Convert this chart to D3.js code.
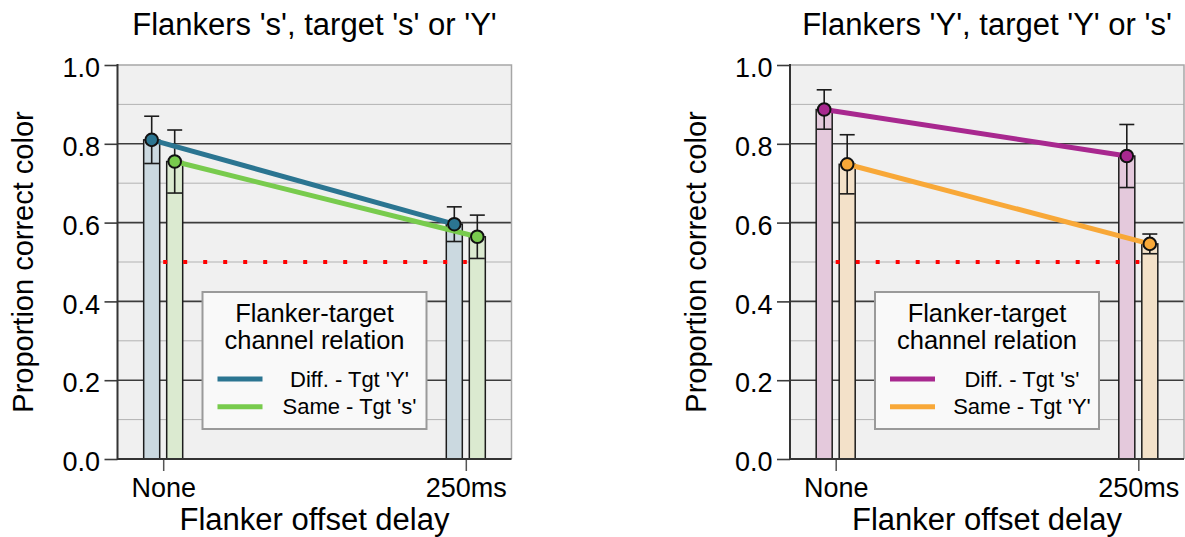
<!DOCTYPE html>
<html>
<head>
<meta charset="utf-8">
<script src="https://cdn.jsdelivr.net/npm/d3@7"></script>
<style>
  html, body { margin: 0; padding: 0; background: #ffffff; }
  svg { display: block; font-family: "Liberation Sans", Arial, sans-serif; }
</style>
</head>
<body>
<svg id="chart" width="1185" height="537"></svg>
<script>
// ---- data ----
const delays = ["None", "250ms"];
const yTicks = [0.0, 0.2, 0.4, 0.6, 0.8, 1.0];
const yMinorTicks = [0.1, 0.3, 0.5, 0.7, 0.9];
const chanceLevel = 0.5;

const panelTitles = ["Flankers 's', target 's' or 'Y'", "Flankers 'Y', target 'Y' or 's'"];
const legendTitle = ["Flanker-target", "channel relation"];
const xAxisTitle = "Flanker offset delay";
const yAxisTitle = "Proportion correct color";

// left panel: flankers 's'
const leftNames = ["Diff. - Tgt 'Y'", "Same - Tgt 's'"];
const leftDiffMean = [0.81, 0.596];
const leftDiffErr = [0.06, 0.044];
const leftSameMean = [0.755, 0.564];
const leftSameErr = [0.08, 0.055];

// right panel: flankers 'Y'
const rightNames = ["Diff. - Tgt 's'", "Same - Tgt 'Y'"];
const rightDiffMean = [0.887, 0.769];
const rightDiffErr = [0.05, 0.08];
const rightSameMean = [0.748, 0.546];
const rightSameErr = [0.075, 0.025];

const leftColors = ["#2b7591", "#78cb4d"];
const leftBarFills = ["#cbd9e0", "#dbead0"];
const rightColors = ["#a8288f", "#f8a838"];
const rightBarFills = ["#e4c9dc", "#f3e1c9"];

// ---- layout ----
const svg = d3.select("#chart");
const plotTop = 65, plotBottom = 459, plotW = 394;
const panelLefts = [117.5, 790];

const y = d3.scaleLinear().domain([0, 1]).range([plotBottom, plotTop]);

function drawPanel(left, title, names, means, errs, colors, fills) {
  const g = svg.append("g").attr("transform", `translate(${left},0)`);
  const x = d3.scalePoint().domain(delays).range([0, plotW]).padding(0.151);
  const sub = d3.scaleBand().domain(names).range([-23, 23]).paddingInner(7 / 23).paddingOuter(0.152);

  // background
  g.append("rect").attr("x", 0).attr("y", plotTop).attr("width", plotW)
    .attr("height", plotBottom - plotTop).attr("fill", "#f0f0f0");

  // grid
  g.selectAll("line.minor").data(yMinorTicks).join("line")
    .attr("x1", 0).attr("x2", plotW).attr("y1", d => y(d)).attr("y2", d => y(d))
    .attr("stroke", "#b2b2b2").attr("stroke-width", 1);
  g.selectAll("line.major").data(yTicks.filter(d => d > 0 && d < 1)).join("line")
    .attr("x1", 0).attr("x2", plotW).attr("y1", d => y(d)).attr("y2", d => y(d))
    .attr("stroke", "#3c3c3c").attr("stroke-width", 1.6);

  // frame (top / right lighter)
  g.append("path").attr("d", `M0,${y(1)}H${plotW}V${plotBottom}`)
    .attr("fill", "none").attr("stroke", "#a6a6a6").attr("stroke-width", 1.5);

  // records
  const recs = [];
  names.forEach((n, si) => {
    delays.forEach((dl, di) => {
      recs.push({ name: n, si, delay: dl, mean: means[si][di], err: errs[si][di],
        cx: x(dl) + sub(n) + sub.bandwidth() / 2 });
    });
  });

  // bars
  g.selectAll("rect.bar").data(recs).join("rect")
    .attr("x", d => x(d.delay) + sub(d.name))
    .attr("width", sub.bandwidth())
    .attr("y", d => y(d.mean))
    .attr("height", d => y(0) - y(d.mean))
    .attr("fill", d => fills[d.si])
    .attr("stroke", "#1c1c1c").attr("stroke-width", 1.5);

  // chance level
  g.append("line")
    .attr("x1", x(delays[0])).attr("x2", x(delays[1]) + 1)
    .attr("y1", y(chanceLevel)).attr("y2", y(chanceLevel))
    .attr("stroke", "#ff0000").attr("stroke-width", 4)
    .attr("stroke-dasharray", "4,16");

  // error bars
  const cap = 7.5;
  const eb = g.selectAll("g.eb").data(recs).join("g")
    .attr("stroke", "#1c1c1c").attr("stroke-width", 1.6);
  eb.append("line").attr("x1", d => d.cx).attr("x2", d => d.cx)
    .attr("y1", d => y(d.mean + d.err)).attr("y2", d => y(d.mean - d.err));
  eb.append("line").attr("x1", d => d.cx - cap).attr("x2", d => d.cx + cap)
    .attr("y1", d => y(d.mean + d.err)).attr("y2", d => y(d.mean + d.err));
  eb.append("line").attr("x1", d => d.cx - cap).attr("x2", d => d.cx + cap)
    .attr("y1", d => y(d.mean - d.err)).attr("y2", d => y(d.mean - d.err));

  // lines
  const line = d3.line().x(d => d.cx).y(d => y(d.mean));
  names.forEach((n, si) => {
    g.append("path").datum(recs.filter(r => r.si === si))
      .attr("d", line).attr("fill", "none")
      .attr("stroke", colors[si]).attr("stroke-width", 5);
  });

  // points
  g.selectAll("circle.pt").data(recs).join("circle")
    .attr("cx", d => d.cx).attr("cy", d => y(d.mean)).attr("r", 6.3)
    .attr("fill", d => colors[d.si]).attr("stroke", "#111").attr("stroke-width", 2);

  // y axis
  const ya = g.append("g").call(d3.axisLeft(y).tickValues(yTicks).tickSize(13)
    .tickPadding(4.5).tickFormat(d3.format(".1f")));
  ya.select(".domain").remove();
  ya.selectAll(".tick line").attr("stroke", "#3c3c3c").attr("stroke-width", 1.6);
  ya.selectAll(".tick text").attr("font-size", 27).attr("fill", "#000").attr("dy", "0.43em");
  g.append("line").attr("x1", 0).attr("x2", 0).attr("y1", plotTop - 1).attr("y2", plotBottom + 1)
    .attr("stroke", "#333").attr("stroke-width", 2);

  // x axis
  const xa = g.append("g").attr("transform", `translate(0,${plotBottom})`)
    .call(d3.axisBottom(x).tickSize(12).tickPadding(7));
  xa.select(".domain").remove();
  xa.selectAll(".tick line").attr("stroke", "#555").attr("stroke-width", 1.5);
  xa.selectAll(".tick text").attr("font-size", 27).attr("fill", "#000");
  g.append("line").attr("x1", 0).attr("x2", plotW).attr("y1", plotBottom).attr("y2", plotBottom)
    .attr("stroke", "#333").attr("stroke-width", 2);

  // legend
  const lx = 85, ly = 292, lw = 224, lh = 137;
  const lg = g.append("g").attr("transform", `translate(${lx},${ly})`);
  lg.append("rect").attr("width", lw).attr("height", lh)
    .attr("fill", "#f9f9f9").attr("stroke", "#9a9a9a").attr("stroke-width", 2);
  lg.selectAll("text.lt").data(legendTitle).join("text")
    .attr("x", lw / 2).attr("y", (d, i) => 29.5 + i * 27.5)
    .attr("text-anchor", "middle").attr("font-size", 25.5).attr("fill", "#000")
    .text(d => d);
  names.forEach((n, si) => {
    const yy = 87 + si * 27.7;
    lg.append("line").attr("x1", 15).attr("x2", 60).attr("y1", yy).attr("y2", yy)
      .attr("stroke", colors[si]).attr("stroke-width", 5);
    lg.append("text").attr("x", 147).attr("y", yy + 7.7)
      .attr("text-anchor", "middle").attr("font-size", 22).attr("fill", "#000").text(n);
  });

  // titles
  g.append("text").attr("x", plotW / 2).attr("y", 35).attr("text-anchor", "middle")
    .attr("font-size", 31).attr("fill", "#000").text(title);
  g.append("text").attr("x", plotW / 2).attr("y", 530).attr("text-anchor", "middle")
    .attr("font-size", 31).attr("fill", "#000").text(xAxisTitle);
  g.append("text")
    .attr("transform", `translate(${33 - 117.5},${(plotTop + plotBottom) / 2}) rotate(-90)`)
    .attr("text-anchor", "middle").attr("font-size", 29).attr("fill", "#000").text(yAxisTitle);
}

drawPanel(panelLefts[0], panelTitles[0], leftNames,
  [leftDiffMean, leftSameMean], [leftDiffErr, leftSameErr], leftColors, leftBarFills);
drawPanel(panelLefts[1], panelTitles[1], rightNames,
  [rightDiffMean, rightSameMean], [rightDiffErr, rightSameErr], rightColors, rightBarFills);
</script>
</body>
</html>
